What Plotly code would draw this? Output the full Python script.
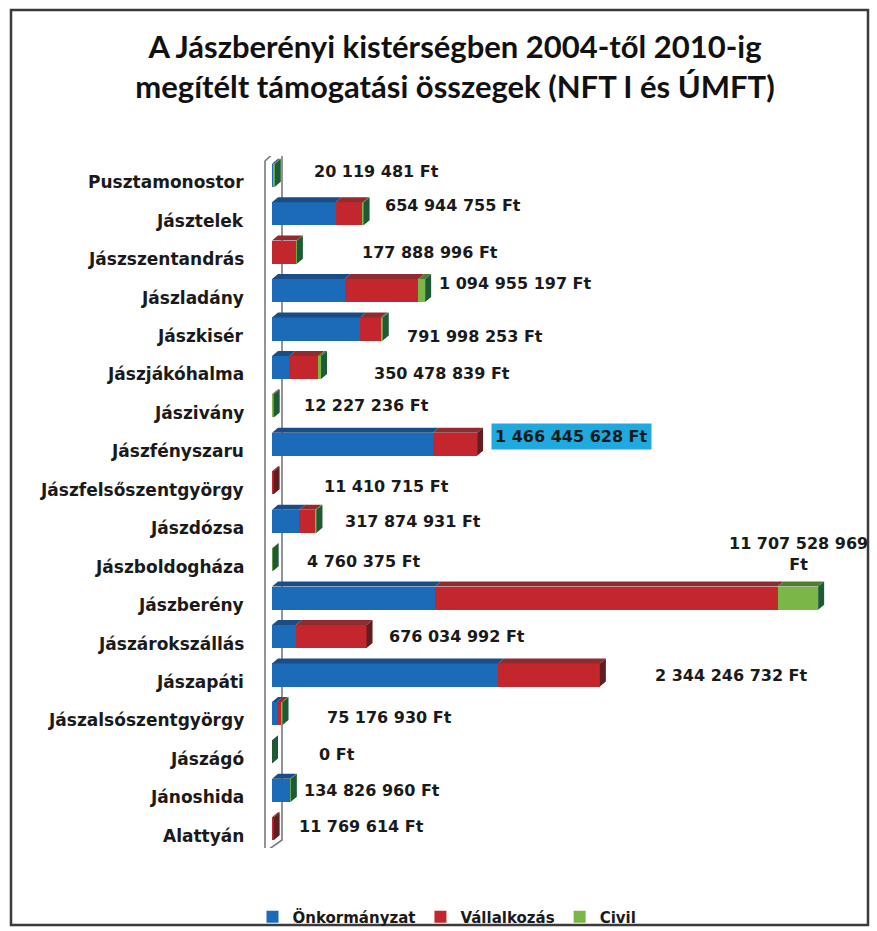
import plotly.graph_objects as go

# ---------------- data ----------------
categories = ["Pusztamonostor", "Jásztelek", "Jászszentandrás", "Jászladány", "Jászkisér",
              "Jászjákóhalma", "Jászivány", "Jászfényszaru", "Jászfelsőszentgyörgy", "Jászdózsa",
              "Jászboldogháza", "Jászberény", "Jászárokszállás", "Jászapáti",
              "Jászalsószentgyörgy", "Jászágó", "Jánoshida", "Alattyán"]
onkormanyzat = [12.0e6, 455e6, 0, 520e6, 630e6, 125e6, 0, 1150e6, 0, 195e6,
                0, 1165e6, 170e6, 1615e6, 35e6, 0, 130e6, 0]
vallalkozas = [0, 195e6, 176e6, 525e6, 150e6, 205e6, 7.0e6, 316.4e6, 11.4e6, 115e6,
               0, 2450e6, 506e6, 729.2e6, 35e6, 0, 0, 11.8e6]
civil = [8.1e6, 4.9e6, 1.9e6, 50e6, 12e6, 20.5e6, 5.2e6, 0, 0, 7.9e6,
         4.76e6, 290e6, 0, 0, 5.2e6, 0, 4.8e6, 0]
totals = [20119481, 654944755, 177888996, 1094955197, 791998253, 350478839, 12227236,
          1466445628, 11410715, 317874931, 4760375, 11707528969, 676034992, 2344246732,
          75176930, 0, 134826960, 11769614]
series_names = ["Önkormányzat", "Vállalkozás", "Civil"]
title_text = "A Jászberényi kistérségben 2004-től 2010-ig<br>megítélt támogatási összegek (NFT I és ÚMFT)"

# ---------------- styles ----------------
front_colors = ["#1c6bb8", "#c4262e", "#7ab648"]
top_colors = ["#1a4d85", "#8e2c30", "#4f7d2e"]
cap_colors = ["#153c66", "#5e1e22", "#1e5a35"]
# label offsets in pixels (right of bar end, and downward)
label_dx = [37, 19, 63, 12, 22, 51, 28, 14, 48, 27, 32, -20, 20, 53, 42, 45, 11, 23]
label_dy = [-4, -8, 0, -7, 7, 6, 0, -8, 4, 0, 2, -44, 0, 0, 4, 3, 0, -2]

W, H = 877, 931
L, R, T, B = 150, 17, 156, 83
PW, PH = W - L - R, H - T - B
ZERO_PX = 272
PX = 7.15e6                    # Ft per pixel
n = len(categories)
ROW = PH / n
BW = 0.6
DX = 6 * PX
DY = 5 / ROW

def xd(px):
    return (px - ZERO_PX) * PX

def yd(py):
    return (py - T) / ROW - 0.5

def xp(px):
    return (px - L) / PW

def yp(py):
    return (T + PH - py) / PH

series = [onkormanyzat, vallalkozas, civil]
idx = list(range(n))

fig = go.Figure()
for s, name, col in zip(series, series_names, front_colors):
    fig.add_trace(go.Bar(
        y=idx, x=s, orientation="h", name=name, width=BW,
        marker=dict(color=col, line=dict(width=0)),
        hoverinfo="x+name"))

shapes = []
# 3D wall along the axis
wl, wr = xd(265), xd(282)
shapes.append(dict(
    type="path", xref="x", yref="y", layer="below",
    path=f"M{wl},{yd(161)} L{wl},{yd(852)} L{wr},{yd(840)} L{wr},{yd(145)} Z",
    line=dict(color="#7a7a7a", width=1.6), fillcolor="rgba(255,255,255,0)"))

sums = []
for i in idx:
    start = 0.0
    last = 2
    yt = i - BW / 2
    yb = i + BW / 2
    for k, s in enumerate(series):
        v = s[i]
        if v > 0:
            x0, x1 = start, start + v
            shapes.append(dict(
                type="path", xref="x", yref="y", layer="above",
                path=f"M{x0},{yt} L{x1},{yt} L{x1 + DX},{yt - DY} L{x0 + DX},{yt - DY} Z",
                line=dict(width=0), fillcolor=top_colors[k]))
            start = x1
            last = k
    sums.append(start)
    x1 = start
    shapes.append(dict(
        type="path", xref="x", yref="y", layer="above",
        path=f"M{x1},{yb} L{x1},{yt} L{x1 + DX},{yt - DY} L{x1 + DX},{yb - DY} Z",
        line=dict(width=0), fillcolor=cap_colors[last]))

# outer frame
shapes.append(dict(type="rect", xref="paper", yref="paper",
                   x0=xp(11), x1=xp(868), y0=yp(925), y1=yp(10),
                   line=dict(color="#3a3a3a", width=2.5), layer="below"))

annotations = []
for i, name in enumerate(categories):
    annotations.append(dict(
        x=0, y=i, xref="x", yref="y", text=name, showarrow=False,
        xanchor="right", yanchor="middle", xshift=-26, yshift=-7,
        font=dict(family="DejaVu Sans", size=17, color="#1a1a1a", weight="bold")))

for i, tot in enumerate(totals):
    txt = f"{tot:,}".replace(",", " ")
    if tot >= 1e10:
        txt = txt + "<br>Ft"
        anchor = "center"
    else:
        txt = txt + " Ft"
        anchor = "left"
    ann = dict(
        x=sums[i], y=i, xref="x", yref="y", text=txt, showarrow=False,
        xanchor=anchor, yanchor="middle", xshift=label_dx[i], yshift=-label_dy[i],
        font=dict(family="DejaVu Sans", size=16, color="#1a1a1a", weight="bold"))
    if categories[i] == "Jászfényszaru":
        ann["bgcolor"] = "#1fa9df"
        ann["borderpad"] = 3
    annotations.append(ann)

fig.update_layout(
    width=W, height=H,
    margin=dict(l=L, r=R, t=T, b=B, autoexpand=False),
    paper_bgcolor="white", plot_bgcolor="white",
    barmode="stack", bargap=0.4,
    title=dict(text=title_text, x=455 / W, xanchor="center", xref="container",
               y=1 - 58 / H, yanchor="middle",
               font=dict(family="Lato", size=31, color="#111111", weight="bold")),
    xaxis=dict(range=[xd(L), xd(L + PW)], visible=False, fixedrange=True),
    yaxis=dict(range=[n - 0.5, -0.5], visible=False, fixedrange=True),
    shapes=shapes,
    annotations=annotations,
    showlegend=True,
    legend=dict(orientation="h", x=xp(447), xanchor="center", y=yp(917), yanchor="middle",
                traceorder="normal",
                font=dict(family="DejaVu Sans", size=15, color="#1a1a1a", weight="bold"),
                bgcolor="rgba(0,0,0,0)"),
)

fig.write_html("out.html", config={"displayModeBar": False},
               post_script="document.body.style.margin='0px';")
